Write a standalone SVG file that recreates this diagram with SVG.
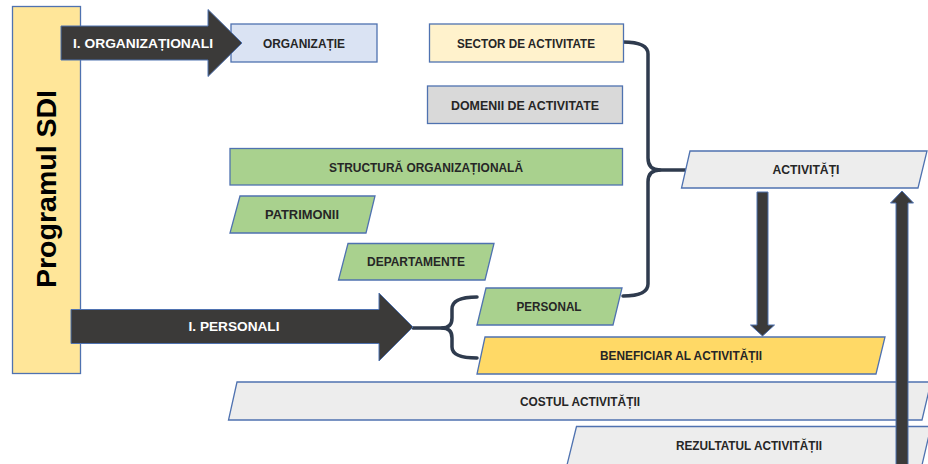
<svg xmlns="http://www.w3.org/2000/svg" width="928" height="464" viewBox="0 0 928 464">
<style>
.box{stroke:#4f72b0;stroke-width:1.3}
.arr{fill:#3b3a39;stroke:#4f72b0;stroke-width:1}
.t{font-family:"Liberation Sans",Arial,sans-serif;font-weight:bold;font-size:12px;fill:#262626;text-anchor:middle}
.w{fill:#ffffff}
.br{fill:none;stroke:#2f3b4e;stroke-width:3.5;stroke-linecap:round;stroke-linejoin:round}
</style>
<rect width="928" height="464" fill="#ffffff"/>
<g id="program">
<rect class="box" x="12.5" y="6.5" width="68" height="367" fill="#ffe699"/>
<text transform="translate(56,189) rotate(-90)" font-family="Liberation Sans, Arial, sans-serif" font-weight="bold" font-size="28" fill="#000" text-anchor="middle" textLength="198" lengthAdjust="spacingAndGlyphs">Programul SDI</text>
</g>
<g id="connectors">
<path class="br" d="M623,42 Q648,42 648,54 L648,158 Q648,170 660,170 Q648,170 648,182 L648,284 Q648,296 623,296"/>
<path class="br" d="M655,170 L690,170"/>
<path class="br" d="M477,297 Q452,297 452,309 L452,318 Q452,328 442,328 Q452,328 452,338 L452,347 Q452,358 477,358"/>
<path class="br" d="M413,328 L446,328"/>
</g>
<g id="organizatie">
<rect class="box" x="231" y="24" width="146" height="38" fill="#dae3f3"/>
<text class="t" x="304" y="47.5" textLength="82" lengthAdjust="spacingAndGlyphs">ORGANIZAȚIE</text>
</g>
<g id="arrow-organizational">
<polygon class="arr" points="61,26 208,26 208,9.5 242,43 208,76.5 208,60 61,60"/>
<text class="t w" x="143" y="47.5" textLength="140" lengthAdjust="spacingAndGlyphs">I. ORGANIZAȚIONALI</text>
</g>
<g id="sector">
<rect class="box" x="429.5" y="24" width="194" height="38" fill="#fff2cc"/>
<text class="t" x="526" y="47.5" textLength="138" lengthAdjust="spacingAndGlyphs">SECTOR DE ACTIVITATE</text>
</g>
<g id="domenii">
<rect class="box" x="427.5" y="86" width="195" height="37.5" fill="#d9d9d9"/>
<text class="t" x="525" y="109.5" textLength="148" lengthAdjust="spacingAndGlyphs">DOMENII DE ACTIVITATE</text>
</g>
<g id="structura">
<rect class="box" x="230" y="148.5" width="392.5" height="36.5" fill="#a9d18e"/>
<text class="t" x="426" y="171.5" textLength="194" lengthAdjust="spacingAndGlyphs">STRUCTURĂ ORGANIZAȚIONALĂ</text>
</g>
<g id="patrimonii">
<polygon class="box" points="240,196 375,196 366,233 230,233" fill="#a9d18e"/>
<text class="t" x="302" y="219" textLength="74" lengthAdjust="spacingAndGlyphs">PATRIMONII</text>
</g>
<g id="departamente">
<polygon class="box" points="348,243.5 494,243.5 485,280 338.5,280" fill="#a9d18e"/>
<text class="t" x="416" y="266" textLength="98" lengthAdjust="spacingAndGlyphs">DEPARTAMENTE</text>
</g>
<g id="personal">
<polygon class="box" points="486,288 622,288 613,325 477,325" fill="#a9d18e"/>
<text class="t" x="549" y="311" textLength="65" lengthAdjust="spacingAndGlyphs">PERSONAL</text>
</g>
<g id="arrow-personal">
<polygon class="arr" points="71,309.5 379,309.5 379,293 413,327 379,361 379,343.5 71,343.5"/>
<text class="t w" x="234" y="331" textLength="91" lengthAdjust="spacingAndGlyphs">I. PERSONALI</text>
</g>
<g id="activitati">
<polygon class="box" points="690,151 927,151 918,188 681.5,188" fill="#ededed"/>
<text class="t" x="806" y="174" textLength="67" lengthAdjust="spacingAndGlyphs">ACTIVITĂȚI</text>
</g>
<g id="beneficiar">
<polygon class="box" points="485,337 885,337 876,374 477,374" fill="#ffd966"/>
<text class="t" x="681" y="360" textLength="162" lengthAdjust="spacingAndGlyphs">BENEFICIAR AL ACTIVITĂȚII</text>
</g>
<g id="costul">
<polygon class="box" points="237,382 931,382 922,420 228.5,420" fill="#ededed"/>
<text class="t" x="580" y="405.5" textLength="120" lengthAdjust="spacingAndGlyphs">COSTUL ACTIVITĂȚII</text>
</g>
<g id="rezultatul">
<polygon class="box" points="576.5,426.5 931,426.5 922,465 567,465" fill="#ededed"/>
<text class="t" x="749" y="449.5" textLength="146" lengthAdjust="spacingAndGlyphs">REZULTATUL ACTIVITĂȚII</text>
</g>
<g id="arrows-vertical">
<polygon class="arr" points="757,192 768,192 768,325 774.5,325 762.5,336 750.5,325 757,325"/>
<polygon class="arr" points="896,466 896,203 890.5,203 902,191 913.5,203 908,203 908,466"/>
</g>
</svg>
